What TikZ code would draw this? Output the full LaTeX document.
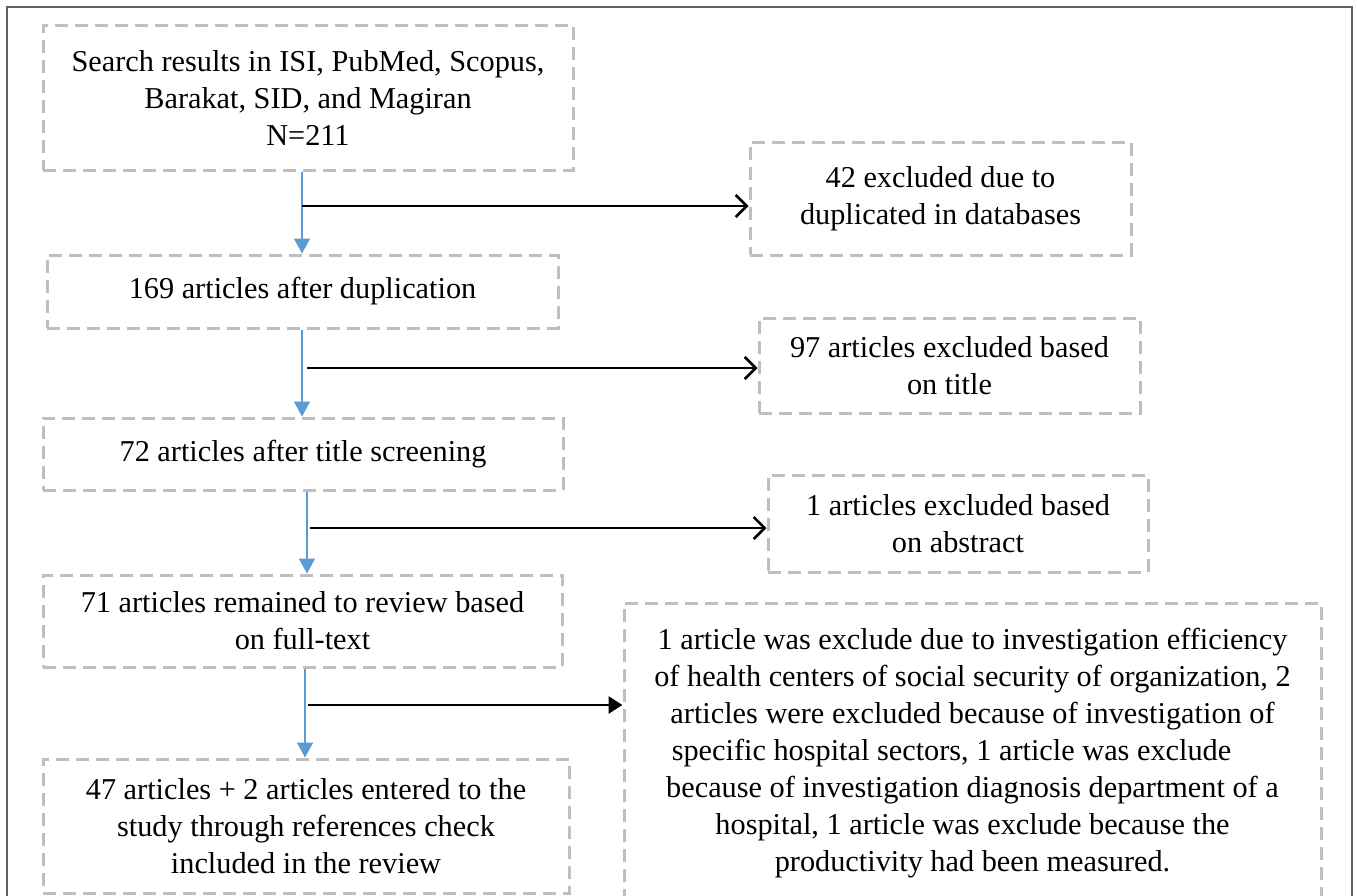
\documentclass[tikz,border=0pt]{standalone}
\usepackage{fontspec}
\setmainfont{Liberation Serif}
\usetikzlibrary{arrows.meta}
\definecolor{boxgray}{RGB}{191,191,191}
\definecolor{framegray}{RGB}{95,95,95}
\definecolor{flowblue}{RGB}{91,155,213}
\tikzset{
  dbox/.style={draw=boxgray, line width=3pt, dash pattern=on 13pt off 7pt,
    inner sep=0pt, align=center, font=\fontsize{30.3}{37}\selectfont},
  flow/.style={draw=flowblue, line width=1.6pt, -{Triangle[length=15pt,width=16pt]}},
  excl/.style={draw=black, line width=2.8pt, -{Straight Barb[length=11pt,width=22pt,line width=2.6pt]}},
  exclf/.style={draw=black, line width=2.8pt, -{Triangle[length=14pt,width=17pt]}},
}
\begin{document}
\begin{tikzpicture}[x=1pt,y=-1pt]
\clip (0,0) rectangle (1357,895);
\fill[white] (0,0) rectangle (1357,895);
\draw[framegray, line width=2pt] (7,7) rectangle (1352,920);

\node[dbox, minimum width=530pt, minimum height=145pt] (b1) at (308,97.5)
  {Search results in ISI, PubMed, Scopus,\\Barakat, SID, and Magiran\\N=211};
\node[dbox, minimum width=511pt, minimum height=73pt] (b2) at (302.5,291.5)
  {169 articles after duplication};
\node[dbox, minimum width=520pt, minimum height=72pt] (b3) at (303,454)
  {72 articles after title screening};
\node[dbox, minimum width=519pt, minimum height=92pt] (b4) at (302.5,621)
  {71 articles remained to review based\\on full-text};
\node[dbox, minimum width=526pt, minimum height=134pt] (b5) at (306,826)
  {47 articles + 2 articles entered to the\\study through references check\\included in the review};

\node[dbox, minimum width=381pt, minimum height=113pt] (r1) at (940.5,198.5)
  {42 excluded due to\\duplicated in databases};
\node[dbox, minimum width=381pt, minimum height=95pt] (r2) at (949.5,365.5)
  {97 articles excluded based\\on title};
\node[dbox, minimum width=380pt, minimum height=97pt] (r3) at (958,523.5)
  {1 articles excluded based\\on abstract};
\node[dbox, minimum width=697pt, minimum height=300pt] (r4) at (972.5,753)
  {1 article was exclude due to investigation efficiency\\of health centers of social security of organization, 2\\articles were excluded because of investigation of\\specific hospital sectors, 1 article was exclude\rule{42pt}{0pt}\\because of investigation diagnosis department of a\\hospital, 1 article was exclude because the\\productivity had been measured.};

\coordinate (j1) at (302,206);
\coordinate (j2) at (307,368);
\coordinate (j3) at (310,528);
\coordinate (j4) at (308,705);

\draw[flow] ([xshift=-6pt]b1.south) -- ([xshift=-6pt]b1.south |- b2.north);
\draw[flow] (b2.south -| j1) -- (b3.north -| j1);
\draw[flow] ([xshift=4pt]b3.south) -- ([xshift=4pt]b3.south |- b4.north);
\draw[flow] ([xshift=2.5pt]b4.south) -- ([xshift=2.5pt]b4.south |- b5.north);

\draw[excl] (j1) -- (j1 -| r1.west);
\draw[excl] (j2) -- (j2 -| r2.west);
\draw[excl] (j3) -- (j3 -| r3.west);
\draw[exclf] (j4) -- (j4 -| r4.west);
\end{tikzpicture}
\end{document}
